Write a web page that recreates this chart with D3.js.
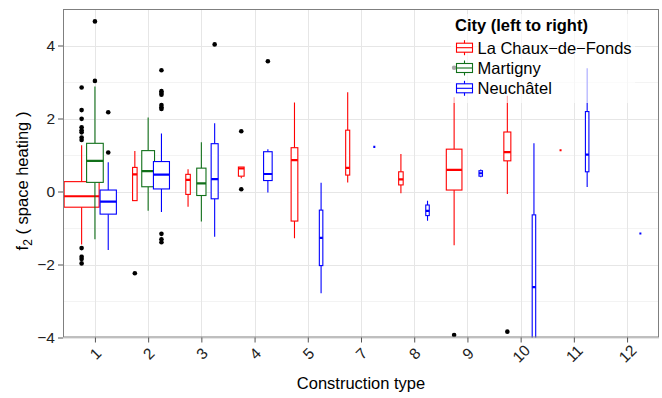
<html>
<head>
<meta charset="utf-8">
<script src="https://d3js.org/d3.v7.min.js"></script>
<style>
  body { margin: 0; background: #fff; }
  text { font-family: "Liberation Sans", Arial, Helvetica, sans-serif; }
</style>
</head>
<body>
<div id="chart"></div>
<script>

// construction types (x axis) and cities (dodged groups)
var types = ["1", "2", "3", "4", "5", "7", "8", "9", "10", "11", "12"];
var cities = ["La Chaux-de-Fonds", "Martigny", "Neuchâtel"];
var cityLabels = ["La Chaux\u2212de\u2212Fonds", "Martigny", "Neuchâtel"];
var cityColors = ["#ff0000", "#11701a", "#0000ff"];
var yTicks = [-4, -2, 0, 2, 4];

// box stats: n, lower whisker, q1, median, q3, upper whisker, outliers
var chauxBoxes = [
  {type: "1",  n: 300, lo: -1.45, q1: -0.43, med: -0.13, q3: 0.27, hi: 1.27,
   out: [2.85, 2.23, 1.99, 1.76, 1.68, 1.62, 1.48, 1.41, -1.55, -1.79, -1.85, -1.97]},
  {type: "2",  n: 5,  lo: -0.25, q1: -0.25, med: 0.47, q3: 0.66, hi: 1.11, out: [-2.24]},
  {type: "3",  n: 5,  lo: -0.42, q1: -0.08, med: 0.32, q3: 0.47, hi: 0.61, out: []},
  {type: "4",  n: 8,  lo: 0.36,  q1: 0.42,  med: 0.63, q3: 0.67, hi: 0.67, out: [1.65, 0.06]},
  {type: "5",  n: 11, lo: -1.28, q1: -0.81, med: 0.86, q3: 1.20, hi: 2.44, out: []},
  {type: "7",  n: 4,  lo: 0.25,  q1: 0.45,  med: 0.65, q3: 1.68, hi: 2.72, out: []},
  {type: "8",  n: 5,  lo: -0.05, q1: 0.18,  med: 0.33, q3: 0.54, hi: 1.03, out: []},
  {type: "9",  n: 60, lo: -1.47, q1: 0.04,  med: 0.59, q3: 1.16, hi: 2.58, out: [-3.93, 3.39]},
  {type: "10", n: 12, lo: -0.07, q1: 0.84,  med: 1.08, q3: 1.63, hi: 2.62, out: [-3.84]},
  {type: "11", n: 1,  lo: 1.13,  q1: 1.13,  med: 1.13, q3: 1.13, hi: 1.13, out: []}
];
var martignyBoxes = [
  {type: "1", n: 68, lo: -1.31, q1: 0.25,  med: 0.84, q3: 1.32, hi: 2.88, out: [3.03, 4.66]},
  {type: "2", n: 40, lo: -0.53, q1: 0.13,  med: 0.56, q3: 1.12, hi: 2.03, out: []},
  {type: "3", n: 21, lo: -0.82, q1: -0.11, med: 0.22, q3: 0.64, hi: 1.35, out: []}
];
var neuchatelBoxes = [
  {type: "1",  n: 65, lo: -1.60, q1: -0.62, med: -0.28, q3: 0.04, hi: 0.80, out: [1.07, 2.17]},
  {type: "2",  n: 63, lo: -0.56, q1: 0.07,  med: 0.46,  q3: 0.82, hi: 1.59,
   out: [3.32, 2.75, 2.70, 2.65, 2.37, 2.31, 2.26, -1.16, -1.31, -1.39]},
  {type: "3",  n: 12, lo: -1.24, q1: -0.20, med: 0.34,  q3: 1.31, hi: 1.87, out: [4.03]},
  {type: "4",  n: 18, lo: -0.03, q1: 0.30,  med: 0.48,  q3: 1.09, hi: 1.16, out: [3.57]},
  {type: "5",  n: 3,  lo: -2.79, q1: -2.03, med: -1.27, q3: -0.51, hi: 0.24, out: []},
  {type: "7",  n: 1,  lo: 1.22,  q1: 1.22,  med: 1.22,  q3: 1.22, hi: 1.22, out: []},
  {type: "8",  n: 3,  lo: -0.80, q1: -0.66, med: -0.53, q3: -0.37, hi: -0.25, out: []},
  {type: "9",  n: 3,  lo: 0.39,  q1: 0.42,  med: 0.50,  q3: 0.57, hi: 0.60, out: []},
  {type: "10", n: 3,  lo: -6.00, q1: -4.31, med: -2.62, q3: -0.64, hi: 1.32, out: []},
  {type: "11", n: 3,  lo: 0.12,  q1: 0.54,  med: 1.01,  q3: 2.19, hi: 3.38, out: []},
  {type: "12", n: 1,  lo: -1.15, q1: -1.15, med: -1.15, q3: -1.15, hi: -1.15, out: []}
];

var groups = [chauxBoxes, martignyBoxes, neuchatelBoxes];

var W = 662, H = 398;
var margin = {top: 9, right: 3, bottom: 60.5, left: 63};
var width = W - margin.left - margin.right,
    height = H - margin.top - margin.bottom;

var svg = d3.select("#chart").append("svg")
    .attr("width", W).attr("height", H);
var g = svg.append("g")
    .attr("transform", "translate(" + margin.left + "," + margin.top + ")");

var x = d3.scalePoint().domain(types).range([0, width]).padding(0.6);
var step = x.step();
var dodge = d3.scaleBand().domain(cities).range([-0.375 * step, 0.375 * step]);
var y = d3.scaleLinear().domain([-4, 5]).range([height, 0]);
var boxW = d3.scaleSqrt().domain([0, 300]).range([0, 35]);

function cx(d, ci) { return x(d.type) + dodge(cities[ci]) + dodge.bandwidth() / 2; }

// grid
g.selectAll(".minor").data([-3, -1, 1, 3])
  .enter().append("line")
    .attr("x1", 0).attr("x2", width)
    .attr("y1", function(d) { return Math.round(y(d)) + 0.5; })
    .attr("y2", function(d) { return Math.round(y(d)) + 0.5; })
    .attr("stroke", "#f3f3f3");
g.selectAll(".hmajor").data(yTicks)
  .enter().append("line")
    .attr("x1", 0).attr("x2", width)
    .attr("y1", function(d) { return Math.round(y(d)) + 0.5; })
    .attr("y2", function(d) { return Math.round(y(d)) + 0.5; })
    .attr("stroke", "#e6e6e6");
g.selectAll(".vmajor").data(types)
  .enter().append("line")
    .attr("x1", function(d) { return Math.round(x(d)) + 0.5; })
    .attr("x2", function(d) { return Math.round(x(d)) + 0.5; })
    .attr("y1", 0).attr("y2", height)
    .attr("stroke", "#e6e6e6");

svg.append("defs").append("clipPath").attr("id", "clip")
  .append("rect").attr("width", width).attr("height", height);

var plot = g.append("g").attr("clip-path", "url(#clip)");

groups.forEach(function(rows, ci) {
  var col = cityColors[ci];
  var gg = plot.append("g");
  var b = gg.selectAll(".box").data(rows).enter().append("g");
  // whiskers
  b.append("line")
    .attr("x1", function(d) { return cx(d, ci); })
    .attr("x2", function(d) { return cx(d, ci); })
    .attr("y1", function(d) { return y(d.hi); })
    .attr("y2", function(d) { return y(d.q3); })
    .attr("stroke", col).attr("stroke-width", 1.1);
  b.append("line")
    .attr("x1", function(d) { return cx(d, ci); })
    .attr("x2", function(d) { return cx(d, ci); })
    .attr("y1", function(d) { return y(d.q1); })
    .attr("y2", function(d) { return y(d.lo); })
    .attr("stroke", col).attr("stroke-width", 1.1);
  // box
  b.append("rect")
    .attr("x", function(d) { return cx(d, ci) - boxW(d.n) / 2; })
    .attr("width", function(d) { return boxW(d.n); })
    .attr("y", function(d) { return y(d.q3); })
    .attr("height", function(d) { return y(d.q1) - y(d.q3); })
    .attr("fill", "#fff")
    .attr("stroke", col).attr("stroke-width", 1.1);
  // median
  b.append("line")
    .attr("x1", function(d) { return cx(d, ci) - boxW(d.n) / 2; })
    .attr("x2", function(d) { return cx(d, ci) + boxW(d.n) / 2; })
    .attr("y1", function(d) { return y(d.med); })
    .attr("y2", function(d) { return y(d.med); })
    .attr("stroke", col).attr("stroke-width", 2.2);
  // outliers
  b.each(function(d) {
    d3.select(this).selectAll("circle").data(d.out).enter().append("circle")
      .attr("cx", cx(d, ci))
      .attr("cy", function(v) { return y(v); })
      .attr("r", 2.3)
      .attr("fill", "#000");
  });
});

// panel border
g.append("rect")
  .attr("x", 0.5).attr("y", 0.5)
  .attr("width", width - 1).attr("height", height - 1)
  .attr("fill", "none").attr("stroke", "#7f7f7f");

// y axis
var yAxis = g.append("g").call(d3.axisLeft(y).tickValues(yTicks).tickSize(5).tickPadding(3)
  .tickFormat(function(d) { return d < 0 ? "\u2212" + Math.abs(d) : d; }));
yAxis.select(".domain").remove();
yAxis.selectAll("line").attr("stroke", "#555");
yAxis.selectAll("text").attr("font-size", 15.5).attr("fill", "#222")
  .style("font-family", "Liberation Sans, Arial, sans-serif");

// x axis
var xAxis = g.append("g").attr("transform", "translate(0," + height + ")")
  .call(d3.axisBottom(x).tickSize(5).tickPadding(0));
xAxis.select(".domain").remove();
xAxis.selectAll("line").attr("stroke", "#555");
xAxis.selectAll("text")
  .attr("font-size", 15.5).attr("fill", "#222")
  .style("font-family", "Liberation Sans, Arial, sans-serif")
  .attr("y", 0).attr("dy", null)
  .attr("text-anchor", "middle")
  .attr("dominant-baseline", "central")
  .attr("transform", "translate(0,16) rotate(-45)");

// axis titles
svg.append("text")
  .attr("x", margin.left + width / 2).attr("y", 389)
  .attr("text-anchor", "middle").attr("font-size", 16.5)
  .text("Construction type");

var yt = svg.append("text")
  .attr("transform", "translate(28,181) rotate(-90)")
  .attr("text-anchor", "middle").attr("font-size", 16.5);
yt.append("tspan").text("f");
yt.append("tspan").attr("font-size", 12).attr("dy", 4).text("2");
yt.append("tspan").attr("dy", -4).text("  ( space heating )");

// legend
var lg = svg.append("g").attr("transform", "translate(451,14)");
lg.append("rect").attr("width", 184).attr("height", 89)
  .attr("fill", "#fff").attr("fill-opacity", 0.65);
lg.append("text").attr("x", 4).attr("y", 16.5)
  .attr("font-size", 16.5).attr("font-weight", "bold")
  .text("City (left to right)");
var item = lg.selectAll(".item").data(cities).enter().append("g")
  .attr("transform", function(d, i) { return "translate(0," + (33.7 + i * 20.3) + ")"; });
item.append("line").attr("x1", 13.5).attr("x2", 13.5).attr("y1", -7.5).attr("y2", 7.5)
  .attr("stroke", function(d, i) { return cityColors[i]; }).attr("stroke-width", 1.1);
item.append("rect").attr("x", 5.5).attr("y", -4.5).attr("width", 16).attr("height", 9)
  .attr("fill", "#fff")
  .attr("stroke", function(d, i) { return cityColors[i]; }).attr("stroke-width", 1.1);
item.append("line").attr("x1", 5.5).attr("x2", 21.5).attr("y1", 0).attr("y2", 0)
  .attr("stroke", function(d, i) { return cityColors[i]; }).attr("stroke-width", 1.1);
item.append("text").attr("x", 26.5).attr("y", 0).attr("dy", "0.36em")
  .attr("font-size", 16.5)
  .text(function(d, i) { return cityLabels[i]; });

</script>
</html>
